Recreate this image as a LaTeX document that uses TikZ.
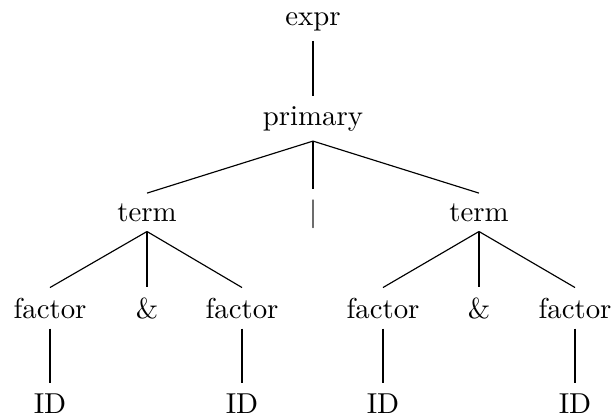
\documentclass[tikz,border=0pt]{standalone}
\begin{document}
\begin{tikzpicture}[x=0.34722pt, y=-0.34722pt,
  lbl/.style={anchor=base, inner sep=0.3333em},
  edge/.style={draw, line width=0.4pt}]
\useasboundingbox (0,0) rectangle (614,417);
% levels of the parse tree
\node[lbl] (expr)    at (313,25)  {expr};
\node[lbl] (primary) at (313,125) {primary};
\node[lbl] (termL)   at (147,221) {term};
\node[lbl] (bar)     at (313,221) {|};
\node[lbl] (termR)   at (479,221) {term};
\node[lbl] (fL1)     at (50,318)  {factor};
\node[lbl] (ampL)    at (147,318) {\&};
\node[lbl] (fL2)     at (242,318) {factor};
\node[lbl] (fR1)     at (383,318) {factor};
\node[lbl] (ampR)    at (479,318) {\&};
\node[lbl] (fR2)     at (575,318) {factor};
\node[lbl] (id1)     at (50,413)  {ID};
\node[lbl] (id2)     at (242,413) {ID};
\node[lbl] (id3)     at (383,413) {ID};
\node[lbl] (id4)     at (575,413) {ID};
% branches
\draw[edge] (expr.south) -- (primary.north);
\draw[edge] (primary.south) -- (termL.north);
\draw[edge] (primary.south) -- (bar.north);
\draw[edge] (primary.south) -- (termR.north);
\draw[edge] (termL.south) -- (fL1.north);
\draw[edge] (termL.south) -- (ampL.north);
\draw[edge] (termL.south) -- (fL2.north);
\draw[edge] (termR.south) -- (fR1.north);
\draw[edge] (termR.south) -- (ampR.north);
\draw[edge] (termR.south) -- (fR2.north);
\draw[edge] (fL1.south) -- (id1.north);
\draw[edge] (fL2.south) -- (id2.north);
\draw[edge] (fR1.south) -- (id3.north);
\draw[edge] (fR2.south) -- (id4.north);
\end{tikzpicture}
\end{document}
